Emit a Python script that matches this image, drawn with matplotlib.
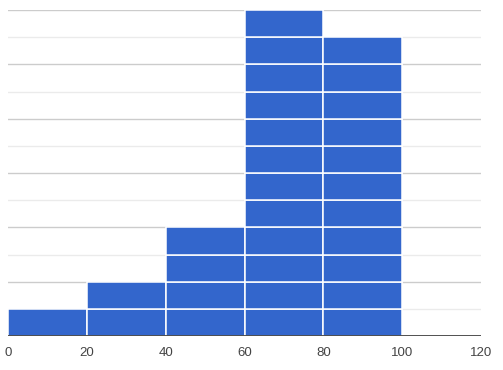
import matplotlib
matplotlib.use("Agg")
import matplotlib.pyplot as plt

# histogram bins (left edges) and item counts per bin
bin_lefts = [0, 20, 40, 60, 80]
bin_width = 20
counts = [1, 2, 4, 12, 11]
x_ticks = [0, 20, 40, 60, 80, 100, 120]

bar_color = "#3366cc"

fig = plt.figure(figsize=(5.03, 3.70), dpi=100)
ax = fig.add_axes([8 / 503, 34 / 370, 473 / 503, 326 / 370])

# gridlines: major every 2 items, minor in between
for y in range(1, 13):
    ax.axhline(y, color="#cccccc" if y % 2 == 0 else "#ebebeb", lw=1, zorder=0)

# each item is its own block, stacked in the bin
for left, n in zip(bin_lefts, counts):
    for k in range(n):
        ax.bar(left, 1, bottom=k, width=bin_width, align="edge",
               color=bar_color, edgecolor="white", linewidth=1.1, zorder=2)

ax.axhline(0, color="#333333", lw=1.2, zorder=3)

ax.set_xlim(0, 120)
ax.set_ylim(0, 12)
ax.set_xticks(x_ticks)
ax.set_xticklabels([str(t) for t in x_ticks], fontsize=9.5, color="#444444",
                   fontfamily="Liberation Sans")
ax.tick_params(axis="x", length=0, pad=8)
ax.set_yticks([])
for s in ax.spines.values():
    s.set_visible(False)

fig.savefig("out.png", dpi=100)
